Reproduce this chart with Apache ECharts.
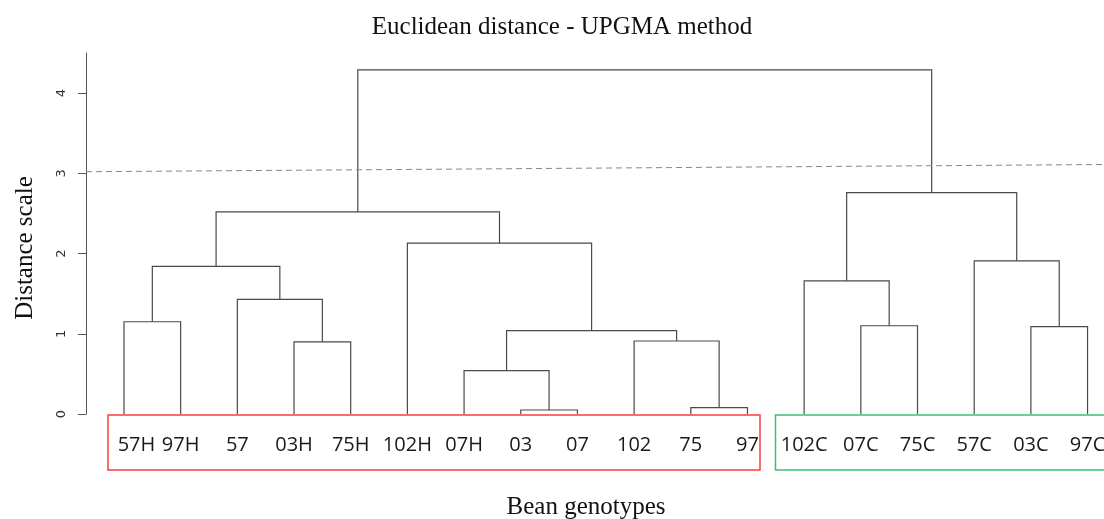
<!DOCTYPE html>
<html>
<head>
<meta charset="utf-8">
<script src="https://cdn.jsdelivr.net/npm/echarts@6/dist/echarts.min.js"></script>
<style>html,body{margin:0;padding:0;background:#fff}#c{width:1104px;height:519px}</style>
</head>
<body>
<div id="c"></div>
<script>
// Leaf labels in dendrogram order
const leaves = ['57H','97H','57','03H','75H','102H','07H','03','07','102','75','97','102C','07C','75C','57C','03C','97C'];
// Merge table (R hclust convention: negative = leaf number, positive = earlier merge number)
const mergeA = [-1, -4, -3, 1, -8, -7, -11, -10, 6, -6, 4, -14, -13, -17, -16, 13, 11];
const mergeB = [-2, -5,  2, 3, -9,  5, -12,   7, 8,  9, 10, -15, 12, -18, 14, 15, 16];
const mergeHeights = [1.15, 0.90, 1.43, 1.84, 0.05, 0.54, 0.08, 0.91, 1.04, 2.13, 2.52, 1.10, 1.66, 1.09, 1.91, 2.76, 4.29];
// Dashed cut line heights (left end, right end)
const cutLine = [3.02, 3.11];
const yTicks = [0, 1, 2, 3, 4];

const xMin = -0.67, xMax = 17.29;

// Build the dendrogram link rows [x1, y1, x2, y2, h]
const nodeX = [], nodeY = [];
const links = [];
function pos(ref) {
  if (ref < 0) return [-ref - 1, 0];
  return [nodeX[ref - 1], nodeY[ref - 1]];
}
for (let i = 0; i < mergeA.length; i++) {
  const a = pos(mergeA[i]), b = pos(mergeB[i]);
  const h = mergeHeights[i];
  links.push([a[0], a[1], b[0], b[1], h]);
  nodeX.push((a[0] + b[0]) / 2);
  nodeY.push(h);
}

const chart = echarts.init(document.getElementById('c'), null, {renderer: 'canvas'});
const serif = '"Liberation Serif", "Times New Roman", serif';
const leafFont = {fontFamily: '"Open Sans", sans-serif', fontSize: 20, color: '#1a1a1a'};
chart.setOption({
  animation: false,
  backgroundColor: '#fff',
  grid: {left: 86, right: 0, top: 53, bottom: 105, containLabel: false, outerBoundsMode: 'none'},
  xAxis: {
    type: 'value', min: xMin, max: xMax,
    axisLine: {show: false, onZero: false}, axisTick: {show: false}, splitLine: {show: false},
    axisLabel: Object.assign({
      customValues: leaves.map((_, i) => i),
      formatter: v => {
        const i = Math.round(v);
        return i === 0 ? '{first|' + leaves[i] + '}' : (leaves[i] || '');
      },
      margin: 21,
      hideOverlap: false,
      rich: {first: Object.assign({padding: [0, 0, 0, 25]}, leafFont)}
    }, leafFont)
  },
  yAxis: {
    type: 'value', min: 0, max: 4.5,
    axisLine: {show: true, onZero: false, lineStyle: {color: '#555', width: 1}},
    axisTick: {show: true, customValues: yTicks, length: 8, lineStyle: {color: '#555'}},
    axisLabel: {customValues: yTicks, rotate: 90, fontSize: 13, color: '#333', margin: 18, fontFamily: '"DejaVu Sans", sans-serif'},
    splitLine: {show: false}
  },
  graphic: [
    {type: 'text', x: 562, y: 27, style: {text: 'Euclidean distance - UPGMA method', font: '25px ' + serif, fill: '#111', align: 'center', verticalAlign: 'middle'}},
    {type: 'text', x: 25, y: 248, rotation: Math.PI / 2, style: {text: 'Distance scale', font: '25px ' + serif, fill: '#111', align: 'center', verticalAlign: 'middle'}},
    {type: 'text', x: 586, y: 507, style: {text: 'Bean genotypes', font: '25px ' + serif, fill: '#111', align: 'center', verticalAlign: 'middle'}},
    {type: 'rect', shape: {x: 108, y: 415, width: 652, height: 55}, style: {fill: 'none', stroke: '#ff3b3b', lineWidth: 1.5}, z: 10},
    {type: 'rect', shape: {x: 775.5, y: 415, width: 340, height: 55}, style: {fill: 'none', stroke: '#3dbd74', lineWidth: 1.5}, z: 10}
  ],
  series: [
    {
      type: 'custom',
      data: links,
      encode: {x: [0, 2], y: [1, 3, 4]},
      silent: true,
      renderItem: function (params, api) {
        const x1 = api.value(0), y1 = api.value(1), x2 = api.value(2), y2 = api.value(3), h = api.value(4);
        return {
          type: 'polyline',
          shape: {points: [api.coord([x1, y1]), api.coord([x1, h]), api.coord([x2, h]), api.coord([x2, y2])]},
          style: {fill: 'none', stroke: '#4a4a4a', lineWidth: 1.2}
        };
      }
    },
    {
      type: 'line',
      data: [[xMin, cutLine[0]], [xMax, cutLine[1]]],
      symbol: 'none', silent: true,
      lineStyle: {color: '#888', width: 1, type: [6, 4]}
    }
  ]
});
</script>
</body>
</html>
